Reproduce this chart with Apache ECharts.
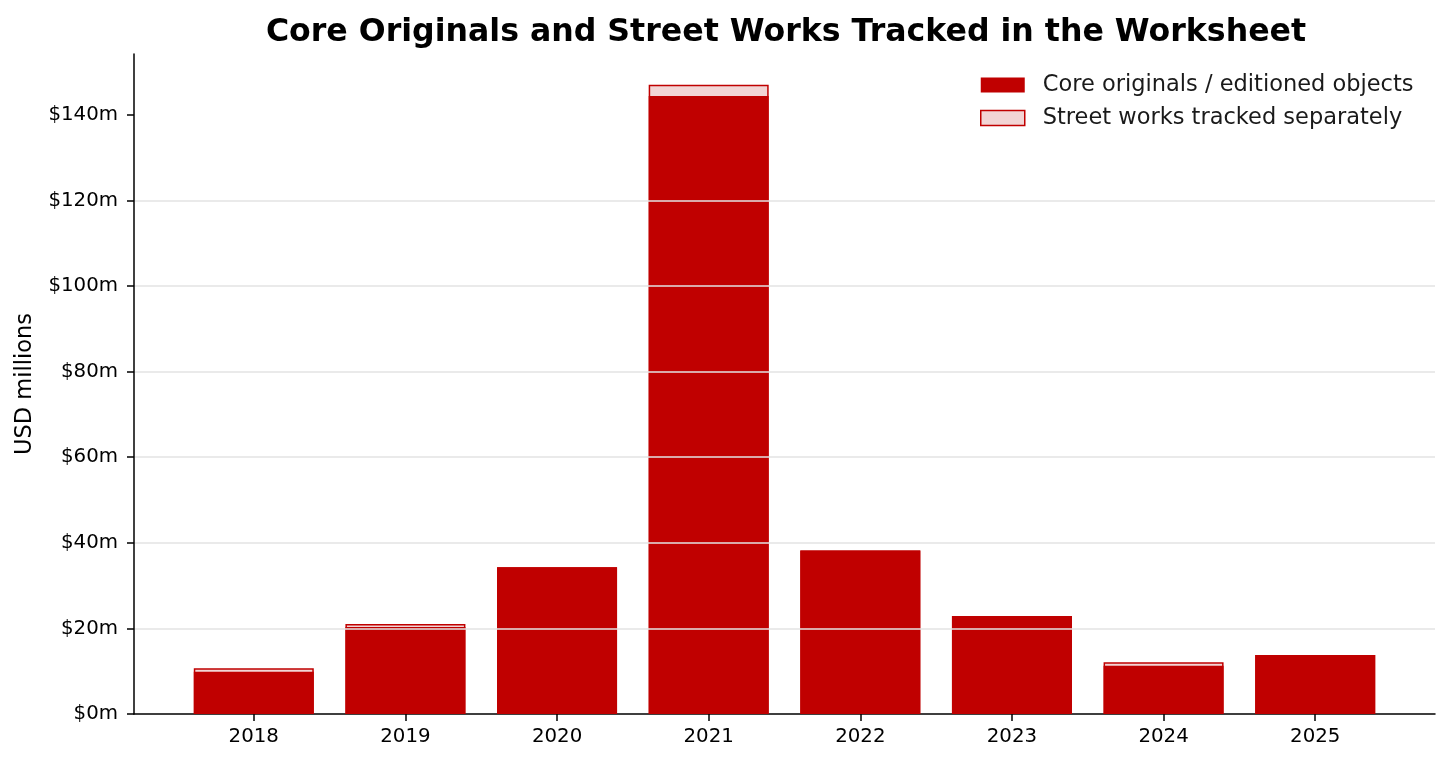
<!DOCTYPE html>
<html>
<head>
<meta charset="utf-8">
<script src="https://cdn.jsdelivr.net/npm/echarts@6/dist/echarts.min.js"></script>
<style>
html,body{margin:0;padding:0;background:#fff;}
#main{width:1452px;height:767px;}
</style>
</head>
<body>
<div id="main"></div>
<script>
// 数据
var years = ['2018', '2019', '2020', '2021', '2022', '2023', '2024', '2025'];
var coreValues = [9.9, 20.3, 34.3, 144.4, 38.2, 22.9, 11.3, 13.8];
var streetValues = [0.8, 0.7, 0, 2.6, 0, 0, 0.8, 0];
var yTicks = [0, 20, 40, 60, 80, 100, 120, 140];

var red = '#c00000';
var pink = '#f2d5d5';
var font = '"DejaVu Sans", Verdana, sans-serif';

var xIdx = years.map(function (y, i) { return i; });
var coreData = coreValues.map(function (v, i) { return [i, v]; });
// 街头作品画在核心柱后面，从0到合计
var totalData = coreValues.map(function (v, i) { return [i, v + streetValues[i]]; });

var chart = echarts.init(document.getElementById('main'));

var option = {
    backgroundColor: '#fff',
    animation: false,
    title: {
        text: 'Core Originals and Street Works Tracked in the Worksheet',
        left: 781,
        textAlign: 'center',
        top: 12,
        textStyle: {
            fontFamily: font,
            fontSize: 31.6,
            fontWeight: 'bold',
            color: '#000'
        }
    },
    legend: {
        left: 980,
        top: 72,
        padding: 0,
        orient: 'vertical',
        icon: 'rect',
        itemWidth: 44,
        itemHeight: 15,
        itemGap: 7,
        z: 10,
        textStyle: {
            fontFamily: font,
            fontSize: 22.5,
            color: '#1a1a1a',
            lineHeight: 26,
            padding: [0, 0, 0, 13]
        },
        data: [
            {name: 'Core originals / editioned objects', itemStyle: {color: red, borderWidth: 0}},
            {name: 'Street works tracked separately', itemStyle: {color: pink, borderColor: red, borderWidth: 1.5}}
        ]
    },
    grid: {
        left: 134,
        right: 17,
        top: 54,
        bottom: 53
    },
    xAxis: {
        type: 'value',
        min: -0.79,
        max: 7.79,
        splitLine: {show: false},
        axisLine: {show: true, onZero: false, lineStyle: {color: '#000', width: 1.5}},
        axisTick: {
            show: true,
            length: 7,
            customValues: xIdx,
            lineStyle: {color: '#000', width: 1.5}
        },
        axisLabel: {
            customValues: xIdx,
            margin: 13,
            fontFamily: font,
            fontSize: 19.8,
            color: '#000',
            formatter: function (v) { return years[Math.round(v)]; }
        }
    },
    yAxis: {
        type: 'value',
        min: 0,
        max: 154.2,
        z: 5,
        name: 'USD millions',
        nameLocation: 'middle',
        nameGap: 97,
        nameTextStyle: {
            fontFamily: font,
            fontSize: 22.5,
            color: '#000'
        },
        axisLine: {show: true, onZero: false, lineStyle: {color: '#000', width: 1.5}},
        axisTick: {
            show: true,
            length: 7,
            customValues: yTicks,
            lineStyle: {color: '#000', width: 1.5}
        },
        axisLabel: {
            customValues: yTicks,
            margin: 16,
            fontFamily: font,
            fontSize: 19.8,
            color: '#000',
            formatter: function (v) { return '$' + v + 'm'; }
        },
        splitLine: {
            show: true,
            showMinLine: false,
            showMaxLine: false,
            lineStyle: {color: '#e3e3e3', width: 1.5}
        }
    },
    series: [
        {
            name: 'Street works tracked separately',
            type: 'bar',
            barWidth: 120,
            barGap: '-100%',
            z: 1,
            data: totalData,
            itemStyle: {color: pink, borderColor: red, borderWidth: 1.5}
        },
        {
            name: 'Core originals / editioned objects',
            type: 'bar',
            barWidth: 120,
            barGap: '-100%',
            z: 2,
            data: coreData,
            itemStyle: {color: red}
        }
    ]
};

chart.setOption(option);
</script>
</body>
</html>
